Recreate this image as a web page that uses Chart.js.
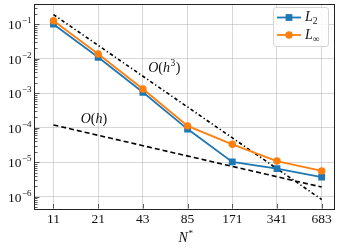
<!DOCTYPE html>
<html>
<head>
<meta charset="utf-8">
<script src="https://cdn.jsdelivr.net/npm/chart.js@4/dist/chart.umd.min.js"></script>
<style>html,body{margin:0;padding:0;background:#fff;}canvas{display:block;}</style>
</head>
<body>
<canvas id="c" width="339" height="248"></canvas>
<script>
const categories = ['11', '21', '43', '85', '171', '341', '683'];
const l2Values = [1.0e-1, 1.1e-2, 1.06e-3, 9.1e-5, 1.02e-5, 6.5e-6, 3.7e-6];
const linfValues = [1.25e-1, 1.37e-2, 1.32e-3, 1.13e-4, 3.3e-5, 1.08e-5, 5.6e-6];
const oh3Index = [0, 6];
const oh3Values = [0.19, 8.3e-7];
const ohIndex = [0, 6];
const ohValues = [1.2e-4, 1.9e-6];
const yTickExponents = [-6, -5, -4, -3, -2, -1];

const BLUE = '#1f77b4', ORANGE = '#ff7f0e';
const SERIF = '"Liberation Serif", "DejaVu Serif", serif';

const pts = (xs, ys) => ys.map((v, i) => ({x: xs[i], y: v}));
const idx = categories.map((_, i) => i);

const framePlugin = {
  id: 'frame',
  afterDraw(chart) {
    const ctx = chart.ctx, a = chart.chartArea;
    const ys = chart.scales.y, xs = chart.scales.x;
    ctx.save();
    // minor + major ticks (inward)
    ctx.strokeStyle = '#333';
    ctx.lineWidth = 0.8;
    for (let k = -7; k <= 0; k++) {
      for (let m = 1; m <= 9; m++) {
        const v = m * Math.pow(10, k);
        const py = ys.getPixelForValue(v);
        if (py < a.top || py > a.bottom) continue;
        const len = m === 1 ? 4.5 : 2.5;
        ctx.beginPath();
        ctx.moveTo(a.left, Math.round(py) + 0.5);
        ctx.lineTo(a.left + len, Math.round(py) + 0.5);
        ctx.stroke();
      }
    }
    idx.forEach(i => {
      const px = Math.round(xs.getPixelForValue(i)) + 0.5;
      ctx.beginPath();
      ctx.moveTo(px, a.bottom);
      ctx.lineTo(px, a.bottom - 4.5);
      ctx.stroke();
    });
    // frame
    ctx.strokeStyle = '#222';
    ctx.lineWidth = 1;
    ctx.strokeRect(Math.round(a.left) - 0.5, Math.round(a.top) - 0.5,
      Math.round(a.right) - Math.round(a.left) + 1, Math.round(a.bottom) - Math.round(a.top) + 1);

    // y tick labels 10^k
    ctx.fillStyle = '#111';
    yTickExponents.forEach(k => {
      const py = ys.getPixelForValue(Math.pow(10, k));
      const sup = '\u2212' + Math.abs(k);
      ctx.font = '9px ' + SERIF;
      const sw = ctx.measureText(sup).width;
      const right = 31.5;
      ctx.textAlign = 'left';
      ctx.textBaseline = 'middle';
      ctx.fillText(sup, right - sw, py - 3.5);
      ctx.font = '13.5px ' + SERIF;
      ctx.textAlign = 'right';
      ctx.fillText('10', right - sw - 0.5, py + 1.5);
    });

    // x axis title N*
    const cx = (a.left + a.right) / 2;
    ctx.textBaseline = 'alphabetic';
    ctx.textAlign = 'left';
    ctx.font = 'italic 14px ' + SERIF;
    const nw = ctx.measureText('N').width;
    ctx.fillText('N', cx - 6, 242);
    ctx.font = '9px ' + SERIF;
    ctx.fillText('*', cx - 6 + nw + 0.5, 236);

    // annotations
    const drawO = (xi, yv, power) => {
      let x = xs.getPixelForValue(xi);
      const y = ys.getPixelForValue(yv);
      ctx.font = 'italic 14px ' + SERIF;
      ctx.fillText('O', x, y); x += ctx.measureText('O').width;
      ctx.font = '14px ' + SERIF;
      ctx.fillText('(', x, y); x += ctx.measureText('(').width;
      ctx.font = 'italic 14px ' + SERIF;
      ctx.fillText('h', x, y); x += ctx.measureText('h').width;
      if (power) {
        ctx.font = '9.5px ' + SERIF;
        ctx.fillText(power, x + 0.5, y - 6); x += ctx.measureText(power).width + 1;
      }
      ctx.font = '14px ' + SERIF;
      ctx.fillText(')', x, y);
    };
    drawO(2.12, Math.pow(10, -2.40), '3');
    drawO(0.61, Math.pow(10, -3.86), '');

    // legend
    const lx = 273, ly = 7, lw = 55, lh = 39;
    ctx.fillStyle = 'rgba(255,255,255,0.85)';
    ctx.strokeStyle = '#d6d6d6';
    ctx.lineWidth = 1;
    ctx.beginPath();
    ctx.roundRect(lx + 0.5, ly + 0.5, lw, lh, 2.5);
    ctx.fill();
    ctx.stroke();
    const entries = [
      {color: BLUE, style: 'rect', r: 4.8, sub: '2', y: 17.5},
      {color: ORANGE, style: 'circle', r: 3.7, sub: '\u221e', y: 35}
    ];
    entries.forEach(e => {
      ctx.strokeStyle = e.color;
      ctx.lineWidth = 1.8;
      ctx.beginPath();
      ctx.moveTo(277, e.y);
      ctx.lineTo(301, e.y);
      ctx.stroke();
      ctx.fillStyle = e.color;
      Chart.helpers.drawPoint(ctx, {pointStyle: e.style, radius: e.r, borderWidth: 0, rotation: 0}, 289, e.y);
      ctx.fillStyle = '#111';
      ctx.textBaseline = 'middle';
      ctx.font = 'italic 14px ' + SERIF;
      ctx.fillText('L', 305, e.y);
      const w = ctx.measureText('L').width;
      ctx.font = '9.5px ' + SERIF;
      ctx.fillText(e.sub, 305 + w, e.y + 4);
    });
    ctx.restore();
  }
};

new Chart(document.getElementById('c'), {
  type: 'line',
  data: {
    datasets: [
      {
        label: 'O(h^3)', data: pts(oh3Index, oh3Values),
        borderColor: '#000', borderWidth: 1.6, borderDash: [3.5, 2.5, 1.3, 2.5],
        pointRadius: 0, fill: false, order: 3
      },
      {
        label: 'O(h)', data: pts(ohIndex, ohValues),
        borderColor: '#000', borderWidth: 1.6, borderDash: [5, 3],
        pointRadius: 0, fill: false, order: 4
      },
      {
        label: 'L2', data: pts(idx, l2Values),
        borderColor: BLUE, backgroundColor: BLUE, borderWidth: 1.8,
        pointStyle: 'rect', pointRadius: 4.8, pointBorderWidth: 0, fill: false, order: 2
      },
      {
        label: 'Linf', data: pts(idx, linfValues),
        borderColor: ORANGE, backgroundColor: ORANGE, borderWidth: 1.8,
        pointStyle: 'circle', pointRadius: 3.7, pointBorderWidth: 0, fill: false, order: 1
      }
    ]
  },
  options: {
    responsive: false,
    devicePixelRatio: 1,
    animation: false,
    layout: {padding: {left: 0, right: 2, top: 1, bottom: 0}},
    plugins: {legend: {display: false}, tooltip: {enabled: false}},
    scales: {
      x: {
        type: 'linear', min: -0.413, max: 6.28,
        afterBuildTicks: s => { s.ticks = idx.map(v => ({value: v})); },
        afterFit: s => { s.height = 39.5; },
        ticks: {
          callback: (v) => categories[v] !== undefined ? categories[v] : '',
          font: {family: SERIF, size: 13.5}, color: '#111', padding: 3, maxRotation: 0, autoSkip: false
        },
        grid: {color: 'rgba(176,176,176,0.5)', lineWidth: 1, drawTicks: false},
        border: {display: false}
      },
      y: {
        type: 'logarithmic', min: Math.pow(10, -6.342), max: Math.pow(10, -0.439),
        afterBuildTicks: s => { s.ticks = yTickExponents.map(k => ({value: Math.pow(10, k)})); },
        afterFit: s => { s.width = 35; },
        ticks: {display: false},
        grid: {color: 'rgba(176,176,176,0.5)', lineWidth: 1, drawTicks: false},
        border: {display: false}
      }
    }
  },
  plugins: [framePlugin]
});
</script>
</body>
</html>
